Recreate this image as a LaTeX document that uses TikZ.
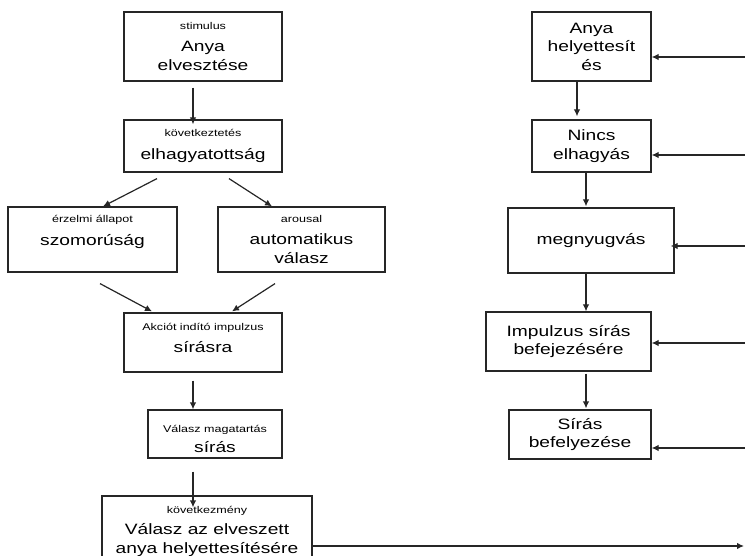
\documentclass[tikz,border=0pt]{standalone}
\usepackage{fontspec}
\setmainfont[FakeStretch=1.28]{Liberation Sans}
\usetikzlibrary{arrows.meta}
\newcommand{\smalllbl}[1]{{\fontsize{9.8}{12}\selectfont #1}}
\begin{document}
\begin{tikzpicture}[x=1pt,y=-1pt,
  box/.style={draw=black!85, line width=1.2pt, inner sep=0pt, align=center,
    font=\fontsize{15}{18.5}\selectfont},
  arr/.style={draw=black!85, line width=1.2pt, -{Latex[length=7pt,width=6.5pt]}}]
\useasboundingbox (0,0) rectangle (745,556);
% left column
\node[box, minimum width=158pt, minimum height=69pt] (b1) at (203,46.5)
  {\smalllbl{stimulus}\\[4pt] Anya\\ elvesztése};
\node[box, minimum width=158pt, minimum height=52pt] (b2) at (203,146)
  {\smalllbl{következtetés}\\[4pt] elhagyatottság};
\node[box, minimum width=169pt, minimum height=65pt] (b3) at (92.5,239.5)
  {\smalllbl{érzelmi állapot}\\[4pt] szomorúság\\ \phantom{válasz}};
\node[box, minimum width=167pt, minimum height=65pt] (b4) at (301.5,239.5)
  {\smalllbl{arousal}\\[4pt] automatikus\\ válasz};
\node[box, minimum width=158pt, minimum height=59pt] (b5) at (203,342.5)
  {\smalllbl{Akciót indító impulzus}\\[4pt] sírásra\rule[-9pt]{0pt}{9pt}};
\node[box, minimum width=134pt, minimum height=48pt] (b6) at (215,434)
  {\smalllbl{\rule{0pt}{17pt}Válasz magatartás}\\[2pt] sírás};
\node[box, minimum width=210pt, minimum height=70pt] (b7) at (207,531)
  {\smalllbl{következmény}\\[3pt] Válasz az elveszett\\ anya helyettesítésére};
% right column
\node[box, minimum width=119pt, minimum height=69pt] (r1) at (591.5,46.5)
  {Anya\\ helyettesít\\ és};
\node[box, minimum width=119pt, minimum height=52pt] (r2) at (591.5,146)
  {Nincs\\ elhagyás};
\node[box, minimum width=166pt, minimum height=65pt] (r3) at (591,240.5)
  {megnyugvás};
\node[box, minimum width=165pt, minimum height=59pt] (r4) at (568.5,341.5)
  {Impulzus sírás\\ befejezésére};
\node[box, minimum width=142pt, minimum height=49pt] (r5) at (580,434.5)
  {Sírás\\ befelyezése};
% left connectors
\draw[arr] ([xshift=-10pt,yshift=-6pt]b1.south) -- ([xshift=-10pt,yshift=-5pt]b2.north);
\draw[arr] ([xshift=-46pt,yshift=-6pt]b2.south) -- ([xshift=10.5pt]b3.north);
\draw[arr] ([xshift=26pt,yshift=-6pt]b2.south) -- ([xshift=-29.5pt]b4.north);
\draw[arr] ([xshift=7.5pt,yshift=-11pt]b3.south) -- ([xshift=-51pt,yshift=1pt]b5.north);
\draw[arr] ([xshift=-26.5pt,yshift=-11pt]b4.south) -- ([xshift=29pt,yshift=1pt]b5.north);
\draw[arr] ([xshift=-10pt,yshift=-8pt]b5.south) -- ([xshift=-22pt]b6.north);
\draw[arr] ([xshift=-22pt,yshift=-13pt]b6.south) -- ([xshift=-14pt,yshift=-12pt]b7.north);
% right connectors
\draw[arr] ([xshift=-14.5pt]r1.south) -- ([xshift=-14.5pt,yshift=3pt]r2.north);
\draw[arr] ([xshift=-5.5pt]r2.south) -- ([xshift=-5pt,yshift=1pt]r3.north);
\draw[arr] ([xshift=-5pt]r3.south) -- ([xshift=17.5pt]r4.north);
\draw[arr] ([xshift=17.5pt,yshift=-2pt]r4.south) -- ([xshift=6pt,yshift=1pt]r5.north);
% feedback inputs from the right edge
\coordinate (e1) at (746,57);
\coordinate (e2) at (746,155);
\coordinate (e3) at (746,246);
\coordinate (e4) at (746,343);
\coordinate (e5) at (746,448);
\draw[arr] (e1) -- (e1 -| r1.east);
\draw[arr] (e2) -- (e2 -| r2.east);
\draw[arr] (e3) -- ([xshift=-4pt]e3 -| r3.east);
\draw[arr] (e4) -- (e4 -| r4.east);
\draw[arr] (e5) -- (e5 -| r5.east);
% bottom output line
\coordinate (bend) at (744,546);
\draw[arr] (b7.east |- bend) -- (bend);
\end{tikzpicture}
\end{document}
